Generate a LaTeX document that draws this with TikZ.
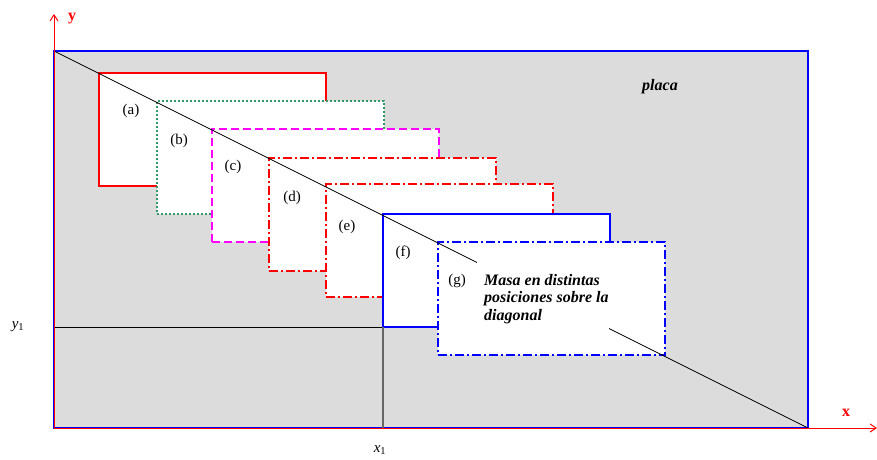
\documentclass[tikz,border=0pt]{standalone}
\usepackage{fontspec}
\setmainfont{Liberation Serif}
\usetikzlibrary{arrows.meta}
\definecolor{plategray}{RGB}{220,220,220}
\definecolor{seagreen}{RGB}{51,153,102}
\definecolor{pureblue}{RGB}{0,0,255}
\definecolor{purered}{RGB}{255,0,0}
\definecolor{puremag}{RGB}{255,0,255}
\tikzset{
  platebox/.style={draw=pureblue, fill=plategray, line width=2.8pt, minimum width=754pt, minimum height=377pt, inner sep=0pt, outer sep=0pt, anchor=north west},
  massbox/.style={fill=white, minimum width=227pt, minimum height=113pt, inner sep=0pt, outer sep=0pt, anchor=north west},
  dashdot/.style={dash pattern=on 9pt off 3pt on 2pt off 3pt},
  lbl/.style={font=\fontsize{15}{18}\selectfont, inner sep=0pt},
  axisline/.style={draw=purered, line width=1pt, -{Straight Barb[length=6pt,width=8pt]}},
  axislbl/.style={text=purered, font=\fontsize{16}{18}\selectfont\bfseries, inner sep=0pt},
  bi/.style={font=\fontsize{16}{17.5}\selectfont\bfseries\itshape, inner sep=0pt},
}
\begin{document}
\begin{tikzpicture}[x=1pt,y=-1pt]
\useasboundingbox (0,0) rectangle (877,459);
% plate
\node[platebox] (plate) at (54,51) {};
\node[bi] (placa) at (660,87) {placa};
% masses along the diagonal
\node[massbox, draw=purered, line width=2pt] (ra) at (99,73) {};
\node[massbox, draw=seagreen, line width=1.6pt, dash pattern=on 1.6pt off 2.4pt] (rb) at (157,101) {};
\node[massbox, draw=puremag, line width=2pt, dash pattern=on 8pt off 4pt] (rc) at (212,129) {};
\node[massbox, draw=purered, line width=2pt, dashdot] (rd) at (269,158) {};
\node[massbox, draw=purered, line width=2.2pt, dashdot] (re) at (326,184) {};
\node[massbox, draw=pureblue, line width=2pt] (rf) at (383,214) {};
\node[massbox, draw=pureblue, line width=2.2pt, dashdot] (rg) at (438,242) {};
% labels
\node[lbl] (la) at (131,111) {(a)};
\node[lbl] (lb) at (179,141) {(b)};
\node[lbl] (lc) at (233,167) {(c)};
\node[lbl] (ld) at (292,198) {(d)};
\node[lbl] (le) at (347,227) {(e)};
\node[lbl] (lf) at (403,253) {(f)};
\node[lbl] (lg) at (457,281) {(g)};
% diagonal
\draw[line width=0.8pt] (plate.north west) -- (plate.south east);
% text with white background
\node[fill=white, minimum width=132pt, minimum height=67pt, inner sep=0pt, outer sep=0pt, anchor=north west] (txtbg) at (477,262) {};
\node[bi, align=left, anchor=north west] (txt) at (484,274) {Masa en distintas\\posiciones sobre la\\diagonal};
% x1, y1 lines
\draw[line width=0.8pt] (plate.west |- rf.south west) -- (rf.south west);
\draw[line width=1.2pt, draw=black!60] (rf.south west) -- (rf.south west |- plate.south);
% axes
\coordinate (ytip) at (54,14);
\coordinate (xtip) at (877,428);
\draw[axisline] (plate.south west) -- (ytip);
\draw[axisline] (plate.south west) -- (xtip);
\node[axislbl] (ylab) at (72,19) {y};
\node[axislbl] (xlab) at (846,413) {x};
\node[lbl, font=\fontsize{15}{18}\selectfont] (y1lab) at (18,327) {\textit{y}\textsubscript{1}};
\node[lbl, font=\fontsize{15}{18}\selectfont] (x1lab) at (380,450) {\textit{x}\textsubscript{1}};
\end{tikzpicture}
\end{document}
